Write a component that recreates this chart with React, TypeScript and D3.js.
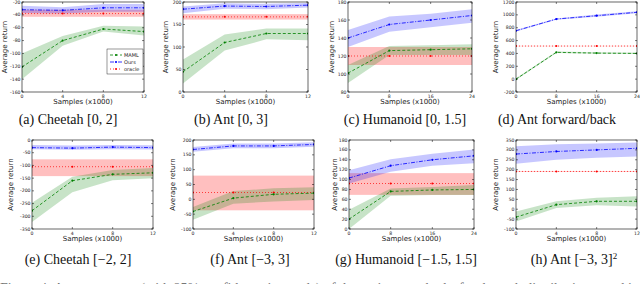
import * as d3 from "d3";

// sample counts (x1000)
const xSmall = [0, 4, 8, 12];
const xLarge = [0, 8, 16, 24];

// each entry: [mean, lower, upper]
const cheetah02Maml = [[-121, -140, -100], [-80, -88, -73], [-62, -66, -57], [-66, -72, -58]];
const cheetah02Ours = [[-32, -37, -26], [-33, -38, -28], [-29, -35, -23], [-29, -35, -23]];
const cheetah02Oracle = [-38, -43, -32];

const ant03Maml = [[45, 19, 72], [110, 92, 128], [130, 117, 141], [130, 115, 141]];
const ant03Ours = [[184, 175, 190], [191, 185, 197], [190, 184, 196], [193, 188, 198]];
const ant03Oracle = [167, 161, 173];

const humanoid015Maml = [[101, 90, 110], [126, 121, 131], [127, 121, 132], [128, 121, 133]];
const humanoid015Ours = [[140, 130, 149], [155, 147, 164], [160, 152, 167], [165, 157, 172]];
const humanoid015Oracle = [120, 110, 130];

const antFbMaml = [[0, -15, 15], [417, 405, 430], [405, 395, 420], [400, 390, 412]];
const antFbOurs = [[753, 740, 766], [935, 925, 945], [987, 970, 1005], [1040, 1025, 1055]];
const antFbOracle = [515, 511, 519];

const cheetah22Maml = [[-278, -322, -247], [-160, -205, -145], [-135, -158, -118], [-129, -150, -110]];
const cheetah22Ours = [[-30, -36, -20], [-32, -38, -22], [-28, -36, -20], [-30, -37, -21]];
const cheetah22Oracle = [-105, -142, -76];

const ant33Maml = [[-41, -69, -26], [4, -15, 28], [17, -7, 37], [21, -2, 41]];
const ant33Ours = [[168, 160, 176], [180, 172, 188], [180, 172, 188], [185, 177, 192]];
const ant33Oracle = [23, -37, 80];

const humanoid1515Maml = [[20, 0, 39], [76, 67, 82], [79, 69, 85], [80, 69, 89]];
const humanoid1515Ours = [[103, 92, 119], [128, 116, 141], [140, 128, 152], [148, 133, 161]];
const humanoid1515Oracle = [92, 69, 113];

const ant33sqMaml = [[-40, -62, -11], [23, 6, 40], [40, 20, 58], [40, 14, 65]];
const ant33sqOurs = [[279, 230, 318], [292, 250, 328], [300, 260, 332], [308, 267, 337]];
const ant33sqOracle = [191, 189, 193];

const ticksA = [-160, -140, -120, -100, -80, -60, -40, -20];
const ticksB = [0, 50, 100, 150, 200];
const ticksC = [80, 100, 120, 140, 160, 180];
const ticksD = [-200, 0, 200, 400, 600, 800, 1000, 1200];
const ticksE = [-350, -300, -250, -200, -150, -100, -50, 0];
const ticksF = [-100, -50, 0, 50, 100, 150, 200];
const ticksG = [0, 20, 40, 60, 80, 100, 120, 140, 160, 180];
const ticksH = [-100, -50, 0, 50, 100, 150, 200, 250, 300, 350];

const captions = [
  "(a) Cheetah [0, 2]",
  "(b) Ant [0, 3]",
  "(c) Humanoid [0, 1.5]",
  "(d) Ant forward/back",
  "(e) Cheetah [\u22122, 2]",
  "(f) Ant [\u22123, 3]",
  "(g) Humanoid [\u22121.5, 1.5]",
  "(h) Ant [\u22123, 3]",
];

const GREEN = "#008000";
const BLUE = "#0000ff";
const RED = "#ff0000";

const panels = [
  { xs: xSmall, maml: cheetah02Maml, ours: cheetah02Ours, oracle: cheetah02Oracle, ticks: ticksA, l: 22, r: 144, t: 2, b: 92, yt: 7, cx: 68, legend: true },
  { xs: xSmall, maml: ant03Maml, ours: ant03Ours, oracle: ant03Oracle, ticks: ticksB, l: 183, r: 308, t: 2, b: 92, yt: 168, cx: 231 },
  { xs: xLarge, maml: humanoid015Maml, ours: humanoid015Ours, oracle: humanoid015Oracle, ticks: ticksC, l: 348, r: 472, t: 2, b: 92, yt: 334, cx: 405 },
  { xs: xLarge, maml: antFbMaml, ours: antFbOurs, oracle: antFbOracle, ticks: ticksD, l: 516, r: 637, t: 2, b: 92, yt: 498, cx: 557 },
  { xs: xSmall, maml: cheetah22Maml, ours: cheetah22Ours, oracle: cheetah22Oracle, ticks: ticksE, l: 32, r: 153, t: 140, b: 229, yt: 13, cx: 78 },
  { xs: xSmall, maml: ant33Maml, ours: ant33Ours, oracle: ant33Oracle, ticks: ticksF, l: 193, r: 314, t: 140, b: 229, yt: 175, cx: 250 },
  { xs: xLarge, maml: humanoid1515Maml, ours: humanoid1515Ours, oracle: humanoid1515Oracle, ticks: ticksG, l: 349, r: 474, t: 140, b: 229, yt: 337, cx: 406 },
  { xs: xSmall, maml: ant33sqMaml, ours: ant33sqOurs, oracle: ant33sqOracle, ticks: ticksH, l: 516, r: 637, t: 140, b: 229, yt: 498, cx: 574, sq: true },
];

function Panel({ p, i }: { p: any; i: number }) {
  const x = d3.scaleLinear().domain([p.xs[0], p.xs[p.xs.length - 1]]).range([p.l, p.r]);
  const y = d3.scaleLinear().domain([p.ticks[0], p.ticks[p.ticks.length - 1]]).range([p.b, p.t]);
  const area = d3.area<number[]>().x((d, j) => x(p.xs[j])).y0((d) => y(d[1])).y1((d) => y(d[2]));
  const line = d3.line<number[]>().x((d, j) => x(p.xs[j])).y((d) => y(d[0]));
  const clipId = "clip" + i;
  const [om, olo, ohi] = p.oracle;
  const capY = p.t < 50 ? 124 : 264;
  return (
    <g>
      <defs>
        <clipPath id={clipId}>
          <rect x={p.l} y={p.t} width={p.r - p.l} height={p.b - p.t} />
        </clipPath>
      </defs>
      <g clipPath={`url(#${clipId})`}>
        <rect x={p.l} y={y(ohi)} width={p.r - p.l} height={y(olo) - y(ohi)} fill={RED} fillOpacity={0.25} />
        <path d={area(p.ours) || ""} fill={BLUE} fillOpacity={0.22} />
        <path d={area(p.maml) || ""} fill={GREEN} fillOpacity={0.22} />
        <line x1={p.l} x2={p.r} y1={y(om)} y2={y(om)} stroke={RED} strokeWidth={0.7} strokeDasharray="1,2" />
        <path d={line(p.ours) || ""} fill="none" stroke={BLUE} strokeWidth={0.8} strokeDasharray="4,1.5,1,1.5" />
        <path d={line(p.maml) || ""} fill="none" stroke={GREEN} strokeWidth={0.8} strokeDasharray="3,2" />
        {p.xs.map((xv: number, j: number) => (
          <g key={j}>
            <circle cx={x(xv)} cy={y(om)} r={1} fill={RED} />
            <circle cx={x(xv)} cy={y(p.ours[j][0])} r={1.1} fill={BLUE} />
            <circle cx={x(xv)} cy={y(p.maml[j][0])} r={1.1} fill={GREEN} />
          </g>
        ))}
      </g>
      <rect x={p.l} y={p.t} width={p.r - p.l} height={p.b - p.t} fill="none" stroke="#000" strokeWidth={0.6} />
      {p.ticks.map((tv: number) => (
        <g key={"y" + tv}>
          <line x1={p.l} x2={p.l + 2} y1={y(tv)} y2={y(tv)} stroke="#000" strokeWidth={0.5} />
          <line x1={p.r} x2={p.r - 2} y1={y(tv)} y2={y(tv)} stroke="#000" strokeWidth={0.5} />
          <text x={p.l - 1.5} y={y(tv) + 1.6} fontSize={4.6} textAnchor="end" fill="#222">{tv}</text>
        </g>
      ))}
      {p.xs.map((xv: number) => (
        <g key={"x" + xv}>
          <line x1={x(xv)} x2={x(xv)} y1={p.b} y2={p.b - 2} stroke="#000" strokeWidth={0.5} />
          <line x1={x(xv)} x2={x(xv)} y1={p.t} y2={p.t + 2} stroke="#000" strokeWidth={0.5} />
          <text x={x(xv)} y={p.b + 5.5} fontSize={4.6} textAnchor="middle" fill="#222">{xv}</text>
        </g>
      ))}
      <text x={(p.l + p.r) / 2} y={p.b + 12} fontSize={7} textAnchor="middle" fill="#222">Samples (x1000)</text>
      <text transform={`translate(${p.yt},${(p.t + p.b) / 2}) rotate(-90)`} fontSize={7} textAnchor="middle" fill="#222">Average return</text>
      <text x={p.cx} y={capY} fontSize={14} textAnchor="middle" fontFamily="Liberation Serif" fill="#111">
        {captions[i]}
        {p.sq ? <tspan dy={-5} fontSize={9}>2</tspan> : null}
      </text>
      {p.legend ? (
        <g>
          <rect x={107} y={49} width={36} height={25} fill="#fff" stroke="#000" strokeWidth={0.4} />
          {[["MAML", GREEN, "3,2"], ["Ours", BLUE, "4,1.5,1,1.5"], ["oracle", RED, "1,2"]].map(([name, c, dash], k) => (
            <g key={name}>
              <line x1={110} x2={122} y1={55 + k * 7} y2={55 + k * 7} stroke={c} strokeWidth={0.8} strokeDasharray={dash} />
              <circle cx={116} cy={55 + k * 7} r={1} fill={c} />
              <text x={124} y={57 + k * 7} fontSize={5} fill="#222">{name}</text>
            </g>
          ))}
        </g>
      ) : null}
    </g>
  );
}

export default function App() {
  return (
    <svg width={640} height={284} style={{ position: "absolute", left: 0, top: 0, fontFamily: "DejaVu Sans" }}>
      <rect width={640} height={284} fill="#fff" />
      {panels.map((p, i) => (
        <Panel key={i} p={p} i={i} />
      ))}
      <text x={0} y={293} fontSize={14} fontFamily="Liberation Serif" fill="#777">
        Figure 4: Average return (with 95% confidence intervals) of the various methods, for the task distributions used in the
      </text>
    </svg>
  );
}
